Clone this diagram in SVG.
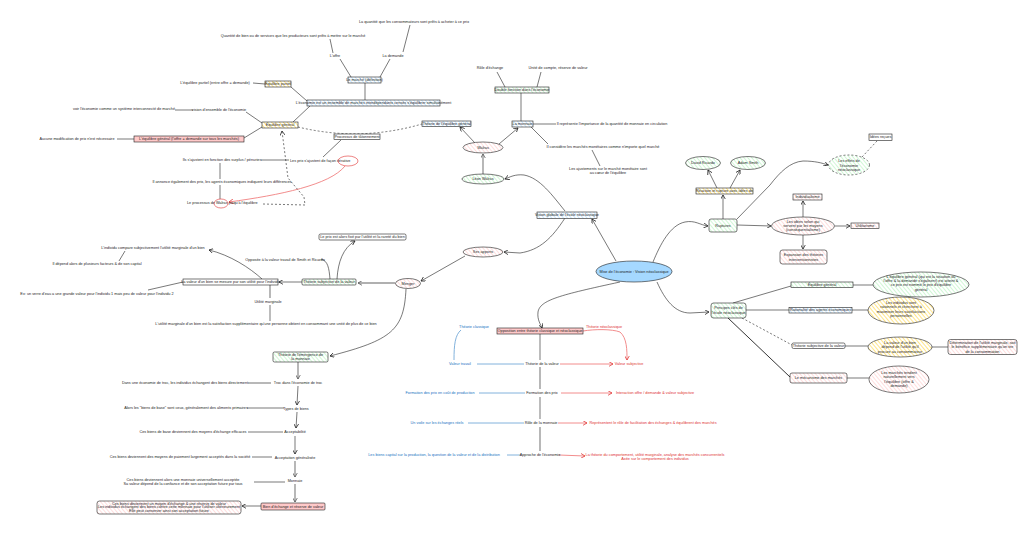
<svg xmlns="http://www.w3.org/2000/svg" width="1036" height="534" viewBox="0 0 1036 534">
<defs>
<style>
.t{font-family:"Liberation Sans",Arial,sans-serif;font-size:3.8px;fill:#1e1e1e;text-anchor:middle;dominant-baseline:central}
.s{text-anchor:start}
.tb{fill:#1971c2}
.tr{fill:#e03131}
.bx{stroke:#1e1e1e;stroke-width:0.6}
.ln{stroke:#1e1e1e;stroke-width:0.6;fill:none}
.th{stroke:#b0b0b0;stroke-width:1.8;fill:none}
.ds{stroke-dasharray:2 2}
.lb{stroke:#74a9d8;stroke-width:0.9;fill:none}
.lr{stroke:#f08080;stroke-width:0.9;fill:none}
</style>
<pattern id="hg" patternUnits="userSpaceOnUse" width="3" height="3" patternTransform="rotate(-40)"><rect width="3" height="3" fill="#fff"/><line x1="0" y1="0" x2="0" y2="3" stroke="#b2f2bb" stroke-width="1.2"/></pattern>
<pattern id="hp" patternUnits="userSpaceOnUse" width="3" height="3" patternTransform="rotate(-40)"><rect width="3" height="3" fill="#fff"/><line x1="0" y1="0" x2="0" y2="3" stroke="#ffc9c9" stroke-width="1.2"/></pattern>
<pattern id="hy" patternUnits="userSpaceOnUse" width="3" height="3" patternTransform="rotate(-40)"><rect width="3" height="3" fill="#fff"/><line x1="0" y1="0" x2="0" y2="3" stroke="#ffd43b" stroke-width="1.2"/></pattern>
<pattern id="hb" patternUnits="userSpaceOnUse" width="3" height="3" patternTransform="rotate(-40)"><rect width="3" height="3" fill="#fff"/><line x1="0" y1="0" x2="0" y2="3" stroke="#a5d8ff" stroke-width="1.2"/></pattern>
<marker id="a" viewBox="0 0 8 8" refX="7" refY="4" markerWidth="5" markerHeight="5" markerUnits="userSpaceOnUse" orient="auto"><path d="M0,0 L7,4 L0,8" fill="none" stroke="#1e1e1e" stroke-width="1.2"/></marker>
<marker id="ag" viewBox="0 0 8 8" refX="7" refY="4" markerWidth="5" markerHeight="5" markerUnits="userSpaceOnUse" orient="auto"><path d="M0,0 L7,4 L0,8" fill="none" stroke="#555" stroke-width="1.2"/></marker>
<marker id="ar" viewBox="0 0 8 8" refX="7" refY="4" markerWidth="5" markerHeight="5" markerUnits="userSpaceOnUse" orient="auto"><path d="M0,0 L7,4 L0,8" fill="none" stroke="#e03131" stroke-width="1.2"/></marker>
</defs>
<rect width="1036" height="534" fill="#fff"/>

<g id="connectors">
<path class="ln" d="M333,53 L330,39"/>
<path class="ln" d="M403,52 L410,25"/>
<path class="ln" d="M340,59 L351,77"/>
<path class="ln" d="M390,59 L380,77"/>
<path class="ln" d="M365,83 L365,100"/>
<path class="ln" d="M307,101 L291,87"/>
<path class="ln" d="M253,83 L265,84"/>
<path class="ln" d="M310,106 L293,122"/>
<path class="ln" d="M262,123 L246,112"/>
<path class="ln" d="M193,110 L175,110"/>
<path class="ln" d="M262,127 L244,138"/>
<path class="ln" d="M117,139 L134,139"/>
<path class="ln ds" d="M298,127 Q360,142 422,124"/>
<path class="ln" d="M341,140 L323,157"/>
<path class="ln" d="M475,143 L460,127" marker-end="url(#a)"/>
<path class="ln" d="M499,144 L518,128" marker-end="url(#a)"/>
<path class="th" d="M483,174 L483,154" marker-end="url(#ag)"/>
<path class="ln" d="M505,87 L497,72"/>
<path class="ln" d="M537,87 L541,72"/>
<path class="ln" d="M521,121 L521,93"/>
<path class="ln" d="M533,124 L556,124"/>
<path class="ln" d="M531,127 L548,144"/>
<path class="ln" d="M592,150 L600,166"/>
<path class="ln" d="M261,160 L289,160"/>
<path class="ln" d="M220,163 L220,179"/>
<path class="ln" d="M220,185 L220,199"/>
<path class="lr" d="M345,166 C330,185 280,195 229,202" marker-end="url(#ar)"/>
<path class="ln ds" d="M263,204 L305,205 L304,197 L288,178 L282,131" marker-end="url(#a)"/>
<path class="ln" d="M616,261 L592,219" marker-end="url(#a)"/>
<path class="ln" d="M565,211 C552,195 540,178 524,175 C515,174 510,177 505,179" marker-end="url(#a)"/>
<path class="ln" d="M565,218 C552,238 540,250 520,253 L504,252" marker-end="url(#a)"/>
<path class="ln" d="M465,256 L421,281" marker-end="url(#a)"/>
<path class="th" d="M395,283 L358,283" marker-end="url(#ag)"/>
<path class="ln" d="M337,279 C338,262 343,248 355,241" marker-end="url(#a)"/>
<path class="ln" d="M330,279 C329,268 328,261 321,259"/>
<path class="ln" d="M302,282 L279,282" marker-end="url(#a)"/>
<path class="ln" d="M262,279 C250,268 230,255 209,250" marker-end="url(#a)"/>
<path class="ln" d="M125,251 L119,261"/>
<path class="ln" d="M148,290 L183,282"/>
<path class="th" d="M270,285 L270,298"/>
<path class="ln" d="M270,305 L270,321"/>
<path class="ln" d="M406,289 C404,330 392,340 330,356" marker-end="url(#a)"/>
<path class="th" d="M298,362 L298,379" marker-end="url(#ag)"/>
<path class="ln" d="M298,386 L297,405" marker-end="url(#a)"/>
<path class="ln" d="M297,412 L296,428" marker-end="url(#a)"/>
<path class="ln" d="M295,436 L295,454" marker-end="url(#a)"/>
<path class="th" d="M295,461 L295,477" marker-end="url(#ag)"/>
<path class="th" d="M295,484 L295,502" marker-end="url(#ag)"/>
<path class="th" d="M248,383 L271,383"/>
<path class="ln" d="M247,408 L284,408"/>
<path class="ln" d="M248,432 L283,432"/>
<path class="ln" d="M252,457 L272,457"/>
<path class="ln" d="M254,482 L285,482"/>
<path class="ln" d="M261,506 L242,506" marker-end="url(#a)"/>
<path class="ln" d="M620,282 C560,295 540,300 538,312 C537,320 541,325 542,328" marker-end="url(#a)"/>
<path class="lb" d="M461,330 C455,335 454,345 454,360"/>
<path class="lr" d="M583,331 C595,329 612,329 620,332 C627,338 627,350 627,360" marker-end="url(#ar)"/>
<path class="ln" d="M540,334 L540,360"/>
<path class="th" d="M540,367 L540,389"/>
<path class="ln" d="M540,397 L540,419"/>
<path class="th" d="M540,427 L540,451"/>
<path class="lb" d="M477,364 L524,364"/>
<path class="lb" d="M479,393 L525,393"/>
<path class="lb" d="M468,423 L524,423"/>
<path class="lb" d="M507,455 L521,455"/>
<path class="lr" d="M560,364 L613,364" marker-end="url(#ar)"/>
<path class="lr" d="M561,393 L612,393" marker-end="url(#ar)"/>
<path class="lr" d="M558,423 L587,423" marker-end="url(#ar)"/>
<path class="lr" d="M559,455 L585,456" marker-end="url(#ar)"/>
<path class="ln" d="M653,262 C660,245 670,225 685,222 C695,220 700,225 708,226" marker-end="url(#a)"/>
<path class="ln" d="M723,219 L723,195" marker-end="url(#a)"/>
<path class="ln" d="M717,188 L708,170" marker-end="url(#a)"/>
<path class="ln" d="M730,188 L740,170" marker-end="url(#a)"/>
<path class="ln" d="M737,219 L770,185 C780,172 790,162 803,161 C815,161 822,163 828,165" marker-end="url(#a)"/>
<path class="ln ds" d="M862,157 L877,141"/>
<path class="ln" d="M737,225 L771,226" marker-end="url(#a)"/>
<path class="ln" d="M803,217 L803,201" marker-end="url(#a)"/>
<path class="ln" d="M835,226 L850,226" marker-end="url(#a)"/>
<path class="ln" d="M803,235 L803,249" marker-end="url(#a)"/>
<path class="ln" d="M657,282 C665,300 675,313 690,313 L709,312" marker-end="url(#a)"/>
<path class="ln" d="M733,303 L791,286"/>
<path class="ln" d="M746,310 L789,310"/>
<path class="ln ds" d="M742,318 L792,345"/>
<path class="ln" d="M728,318 L790,377" style="stroke-width:0.9"/>
<path class="ln" d="M853,285 L873,285"/>
<path class="ln" d="M852,310 L868,310"/>
<path class="ln" d="M845,346 L868,346"/>
<path class="ln" d="M932,347 L948,347"/>
<path class="ln" d="M847,378 L869,378"/>
</g>

<g id="n-quantite-demande"><text class="t" x="414" y="22">La quantité que les consommateurs sont prêts à acheter à ce prix</text></g>
<g id="n-quantite-offre"><text class="t" x="293" y="36">Quantité de bien ou de services que les producteurs sont prêts à mettre sur le marché</text></g>
<g id="n-offre"><text class="t" x="335" y="56">L'offre</text></g>
<g id="n-demande"><text class="t" x="393" y="56">La demande</text></g>
<g id="n-marche"><rect class="bx" x="348" y="77" width="33" height="6" fill="url(#hb)"/><text class="t" x="364.5" y="80">Le marché (définition)</text></g>
<g id="n-economie-marches"><rect class="bx" x="307" y="100" width="133" height="6" fill="url(#hb)"/><text class="t" x="373.5" y="103">L'économie est un ensemble de marchés interdépendants censés s'équilibrer simultanément</text></g>
<g id="n-eq-partiel"><rect class="bx" x="265" y="81" width="26" height="6" fill="url(#hy)"/><text class="t" x="278" y="84">Équilibre partiel</text></g>
<g id="n-eq-partiel-def"><text class="t" x="215" y="83">L'équilibre partiel (entre offre = demande)</text></g>
<g id="n-eq-general"><rect class="bx" x="262" y="122" width="36" height="6" fill="url(#hy)"/><text class="t" x="280" y="125">Équilibre général</text></g>
<g id="n-vision-ensemble"><text class="t" x="219" y="110">vision d'ensemble de l'économie</text></g>
<g id="n-voir-economie"><text class="t" x="124" y="109">voir l'économie comme un système interconnecté de marché</text></g>
<g id="n-eq-general-def"><rect class="bx" x="134" y="136" width="110" height="6" fill="#ffc9c9"/><text class="t" x="189" y="139">L'équilibre général (l'offre = demande sur tous les marchés)</text></g>
<g id="n-aucune-modif"><text class="t" x="77" y="139">Aucune modification de prix n'est nécessaire</text></g>
<g id="n-tatonnement"><rect class="bx" x="334" y="134" width="46" height="5.5" fill="#fff"/><text class="t" x="357" y="136.8">Processus de tâtonnement</text></g>
<g id="n-theorie-eq"><rect class="bx" x="422" y="121" width="49" height="5.5" fill="url(#hb)"/><text class="t" x="446.5" y="123.8">Théorie de l'équilibre général</text></g>
<g id="n-walras"><ellipse class="bx" cx="483" cy="147.5" rx="20" ry="5.5" fill="url(#hp)"/><text class="t" x="483" y="147.5">Walras</text></g>
<g id="n-leon-walras"><ellipse class="bx" cx="483" cy="179" rx="21" ry="5" fill="url(#hg)"/><text class="t" x="483" y="179">Léon Walras</text></g>
<g id="n-monnaie"><rect class="bx" x="512" y="121" width="21" height="6" fill="url(#hb)"/><text class="t" x="522.5" y="124">La monnaie</text></g>
<g id="n-double-fonction"><rect class="bx" x="495" y="87" width="54" height="6" fill="url(#hg)"/><text class="t" x="522" y="90">Double fonction dans l'économie</text></g>
<g id="n-role-echange"><text class="t" x="490" y="68">Rôle d'échange</text></g>
<g id="n-unite-compte"><text class="t" x="558" y="68">Unité de compte, réserve de valeur</text></g>
<g id="n-quantite-monnaie"><text class="t" x="612" y="124">Il représente l'importance de la quantité de monnaie en circulation</text></g>
<g id="n-marches-monetaires"><text class="t" x="603" y="147">Il considère les marchés monétaires comme n'importe quel marché</text></g>
<g id="n-ajustements"><text class="t" x="608" y="169">Les ajustements sur le marché monétaire sont</text><text class="t" x="608" y="173">au cœur de l'équilibre</text></g>
<g id="n-prix-iteratif"><text class="t s" x="290" y="161">Les prix s'ajustent de façon itérative</text><ellipse cx="348" cy="161" rx="10" ry="5" fill="none" stroke="#e03131" stroke-width="0.6"/></g>
<g id="n-surplus"><text class="t" x="222" y="160">Ils s'ajustent en fonction des surplus / pénuries</text></g>
<g id="n-annonce"><text class="t" x="222" y="182">Il annonce également des prix, les agents économiques indiquent leurs différences</text></g>
<g id="n-processus-walras"><text class="t s" x="187" y="203">Le processus de Walras jusqu'à l'équilibre</text><ellipse cx="221" cy="203.5" rx="7" ry="4.5" fill="none" stroke="#e03131" stroke-width="0.6"/></g>

<g id="n-central"><ellipse cx="634" cy="271.5" rx="38" ry="10.5" fill="#a5d8ff" stroke="#1e1e1e" stroke-width="0.6"/><text class="t" x="634" y="271.5">Mise de l'économie : Vision néoclassique</text></g>
<g id="n-vision-globale"><rect class="bx" x="537" y="212" width="60" height="6.5" fill="url(#hb)"/><text class="t" x="567" y="215.3">Vision globale de l'école néoclassique</text></g>
<g id="n-apports"><ellipse class="bx" cx="483" cy="252" rx="20" ry="5" fill="url(#hp)"/><text class="t" x="483" y="252">Ses apports</text></g>
<g id="n-menger"><ellipse class="bx" cx="408" cy="283.5" rx="12.5" ry="5" fill="url(#hp)"/><text class="t" x="408" y="283.5">Menger</text></g>
<g id="n-theorie-subj"><rect class="bx" x="302" y="279" width="54" height="6" rx="1" fill="url(#hg)"/><text class="t" x="329" y="282">Théorie subjective de la valeur</text></g>
<g id="n-prix-fixe"><rect class="bx" x="319" y="234" width="87" height="6" rx="1.5" fill="#fff"/><text class="t" x="362.5" y="237">Le prix est alors fixé par l'utilité et la rareté du bien</text></g>
<g id="n-opposee"><text class="t" x="285" y="260">Opposée à la valeur travail de Smith et Ricardo</text></g>
<g id="n-valeur-bien"><rect class="bx" x="183" y="279" width="95" height="6" fill="#fff"/><text class="t" x="230.5" y="282">La valeur d'un bien se mesure par son utilité pour l'individu</text></g>
<g id="n-individu"><text class="t" x="153" y="248">L'individu compare subjectivement l'utilité marginale d'un bien</text></g>
<g id="n-depend"><text class="t" x="97" y="264">Il dépend alors de plusieurs facteurs &amp; de son capital</text></g>
<g id="n-exemple"><text class="t" x="97" y="294">Ex: un verre d'eau a une grande valeur pour l'individu 1 mais peu de valeur pour l'individu 2</text></g>
<g id="n-utilite-marg"><text class="t" x="268" y="302">Utilité marginale</text></g>
<g id="n-utilite-def"><text class="t" x="266" y="324">L'utilité marginale d'un bien est la satisfaction supplémentaire qu'une personne obtient en consommant une unité de plus de ce bien</text></g>

<g id="n-emergence"><rect class="bx" x="273" y="352" width="55" height="10" rx="1.5" fill="url(#hg)"/><text class="t" x="300.5" y="355">Théorie de l'émergence de</text><text class="t" x="300.5" y="359">la monnaie</text></g>
<g id="n-troc"><text class="t" x="298" y="383">Troc dans l'économie de troc</text></g>
<g id="n-types-biens"><text class="t" x="296" y="409">Types de biens</text></g>
<g id="n-acceptabilite"><text class="t" x="295" y="432">Acceptabilité</text></g>
<g id="n-acceptation"><text class="t" x="295" y="458">Acceptation généralisée</text></g>
<g id="n-monnaie2"><text class="t" x="295" y="481">Monnaie</text></g>
<g id="n-bien-echange"><rect class="bx" x="261" y="503" width="64" height="7" rx="1" fill="#ffc9c9"/><text class="t" x="293" y="506.5">Bien d'échange et réserve de valeur</text></g>
<g id="n-l1"><text class="t" x="185" y="383">Dans une économie de troc, les individus échangent des biens directement</text></g>
<g id="n-l2"><text class="t" x="186" y="408">Alors les "biens de base" sont ceux, généralement des aliments primaires</text></g>
<g id="n-l3"><text class="t" x="193" y="432">Ces biens de base deviennent des moyens d'échange efficaces</text></g>
<g id="n-l4"><text class="t" x="180" y="457">Ces biens deviennent des moyens de paiement largement acceptés dans la société</text></g>
<g id="n-l5"><text class="t" x="183" y="480">Ces biens deviennent alors une monnaie universellement acceptée</text><text class="t" x="183" y="484">Sa valeur dépend de la confiance et de son acceptation future par tous</text></g>
<g id="n-l6"><rect class="bx" x="97" y="501" width="144" height="13" rx="2.5" fill="url(#hp)"/><text class="t" x="169" y="503.8">Ces biens deviennent un moyen d'échange &amp; une réserve de valeur</text><text class="t" x="169" y="507.3">Les individus échangent des biens contre cette monnaie pour l'utiliser ultérieurement</text><text class="t" x="169" y="510.8">Elle peut conserver ainsi son acceptation future</text></g>

<g id="n-opposition"><rect class="bx" x="497" y="328" width="86" height="6" fill="#ffc9c9"/><text class="t" x="540" y="331">Opposition entre théorie classique et néoclassique</text></g>
<g id="n-classique"><text class="t tb" x="474" y="327">Théorie classique</text></g>
<g id="n-neoclassique"><text class="t tr" x="604" y="327">Théorie néoclassique</text></g>
<g id="n-theorie-valeur"><text class="t" x="542" y="364">Théorie de la valeur</text></g>
<g id="n-formation-prix"><text class="t" x="542" y="393">Formation des prix</text></g>
<g id="n-role-monnaie"><text class="t" x="541" y="423">Rôle de la monnaie</text></g>
<g id="n-approche"><text class="t" x="540" y="455">Approche de l'économie</text></g>
<g id="n-c1"><text class="t tb" x="460" y="364">Valeur travail</text></g>
<g id="n-c2"><text class="t tb" x="440" y="393">Formation des prix en coût de production</text></g>
<g id="n-c3"><text class="t tb" x="437" y="423">Un voile sur les échanges réels</text></g>
<g id="n-c4"><text class="t tb" x="434" y="455">Les biens capital sur la production, la question de la valeur et de la distribution</text></g>
<g id="n-n1"><text class="t tr" x="629" y="364">Valeur subjective</text></g>
<g id="n-n2"><text class="t tr" x="655" y="393">Interaction offre / demande &amp; valeur subjective</text></g>
<g id="n-n3"><text class="t tr" x="653" y="423">Représentent le rôle de facilitation des échanges &amp; équilibrent des marchés</text></g>
<g id="n-n4"><text class="t tr" x="655" y="455">La théorie du comportement, utilité marginale, analyse des marchés concurrentiels</text><text class="t tr" x="655" y="459">Axée sur le comportement des individus</text></g>

<g id="n-ricardo"><ellipse class="bx" cx="703" cy="163" rx="17.5" ry="6.5" fill="url(#hg)"/><text class="t" x="703" y="163">David Ricardo</text></g>
<g id="n-smith"><ellipse class="bx" cx="748" cy="163" rx="17.5" ry="6.5" fill="url(#hg)"/><text class="t" x="748" y="163">Adam Smith</text></g>
<g id="n-reaction"><rect class="bx" x="696" y="188" width="57" height="6" fill="url(#hy)"/><text class="t" x="724.5" y="191">Réaction et rupture avec idées de</text></g>
<g id="n-ruptures"><rect class="bx" x="709" y="219" width="28" height="13" rx="2" fill="url(#hg)"/><text class="t" x="723" y="225.5">Ruptures</text></g>
<g id="n-effets"><ellipse class="bx ds" cx="849" cy="165" rx="20.5" ry="10" fill="url(#hg)"/><text class="t" x="849" y="161">Les effets de</text><text class="t" x="849" y="165.5">l'économie</text><text class="t" x="849" y="170">néoclassique</text></g>
<g id="n-idees-recues"><rect class="bx" x="869" y="134" width="23" height="6.5" fill="#fff"/><text class="t" x="880.5" y="137.3">Idées reçues</text></g>
<g id="n-idees"><ellipse class="bx" cx="803" cy="226" rx="31.5" ry="9" fill="url(#hp)"/><text class="t" x="803" y="221.5">Les idées selon qui</text><text class="t" x="803" y="225.8">servent par les moyens</text><text class="t" x="803" y="230">(conséquentialisme)</text></g>
<g id="n-individualisme"><rect class="bx" x="793" y="194" width="29" height="6" fill="url(#hp)"/><text class="t" x="807.5" y="197">Individualisme</text></g>
<g id="n-utilitarisme"><rect class="bx" x="851" y="223" width="28" height="5.5" fill="url(#hp)"/><text class="t" x="865" y="225.8">Utilitarisme</text></g>
<g id="n-interventionnistes"><rect class="bx" x="780" y="250" width="47" height="14" rx="2.5" fill="url(#hp)"/><text class="t" x="803.5" y="255">Expansion des théories</text><text class="t" x="803.5" y="259.5">interventionnistes</text></g>
<g id="n-principes"><rect class="bx" x="711" y="303" width="35" height="15" rx="2.5" fill="url(#hg)"/><text class="t" x="728.5" y="308.3">Principes clés de</text><text class="t" x="728.5" y="312.8">l'école néoclassique</text></g>
<g id="n-p-equilibre"><rect class="bx" x="791" y="282" width="62" height="5.5" fill="url(#hg)"/><text class="t" x="822" y="284.8">Équilibre général</text></g>
<g id="n-p-rationalite"><rect class="bx" x="789" y="307.5" width="63" height="5.5" fill="url(#hb)"/><text class="t" x="820.5" y="310.3">Rationalité des agents économiques</text></g>
<g id="n-p-subjective"><rect class="bx" x="792" y="343" width="53" height="5.5" rx="1.5" fill="#fff"/><text class="t" x="818.5" y="345.8">Théorie subjective de la valeur</text></g>
<g id="n-p-mecanisme"><rect class="bx" x="790" y="373" width="57" height="10" rx="2" fill="url(#hp)"/><text class="t" x="818.5" y="378">Le mécanisme des marchés</text></g>
<g id="n-e-equilibre"><ellipse class="bx" cx="921" cy="284.5" rx="48" ry="12.5" fill="url(#hg)"/><text class="t" x="921" y="277">L'équilibre général (qui est la situation où</text><text class="t" x="921" y="281.2">l'offre &amp; la demande s'égalisent) est atteint &amp;</text><text class="t" x="921" y="285.4">ce prix est nommé le prix d'équilibre</text><text class="t" x="921" y="289.6">général</text></g>
<g id="n-e-rationnels"><ellipse class="bx" cx="901" cy="310.5" rx="33" ry="13.5" fill="url(#hy)"/><text class="t" x="901" y="302.5">Les individus sont</text><text class="t" x="901" y="307">rationnels et cherchent à</text><text class="t" x="901" y="311.5">maximiser leurs satisfactions</text><text class="t" x="901" y="316">personnelles</text></g>
<g id="n-e-valeur"><ellipse class="bx" cx="900" cy="347" rx="32" ry="10" fill="url(#hy)"/><text class="t" x="900" y="342.8">La valeur d'un bien</text><text class="t" x="900" y="347.2">dépend de l'utilité qu'il</text><text class="t" x="900" y="351.6">procure au consommateur</text></g>
<g id="n-determination"><rect class="bx" x="948" y="339.5" width="69" height="15" rx="2.5" fill="url(#hp)"/><text class="t" x="982.5" y="342.8">Détermination de l'utilité marginale, soit</text><text class="t" x="982.5" y="347.2">le bénéfice supplémentaire qu'on tire</text><text class="t" x="982.5" y="351.6">de la consommation</text></g>
<g id="n-e-marches"><ellipse class="bx" cx="899" cy="379.5" rx="30" ry="13.5" fill="url(#hp)"/><text class="t" x="899" y="373">Les marchés tendent</text><text class="t" x="899" y="377.3">naturellement vers</text><text class="t" x="899" y="381.6">l'équilibre (offre &amp;</text><text class="t" x="899" y="385.9">demande)</text></g>
</svg>
